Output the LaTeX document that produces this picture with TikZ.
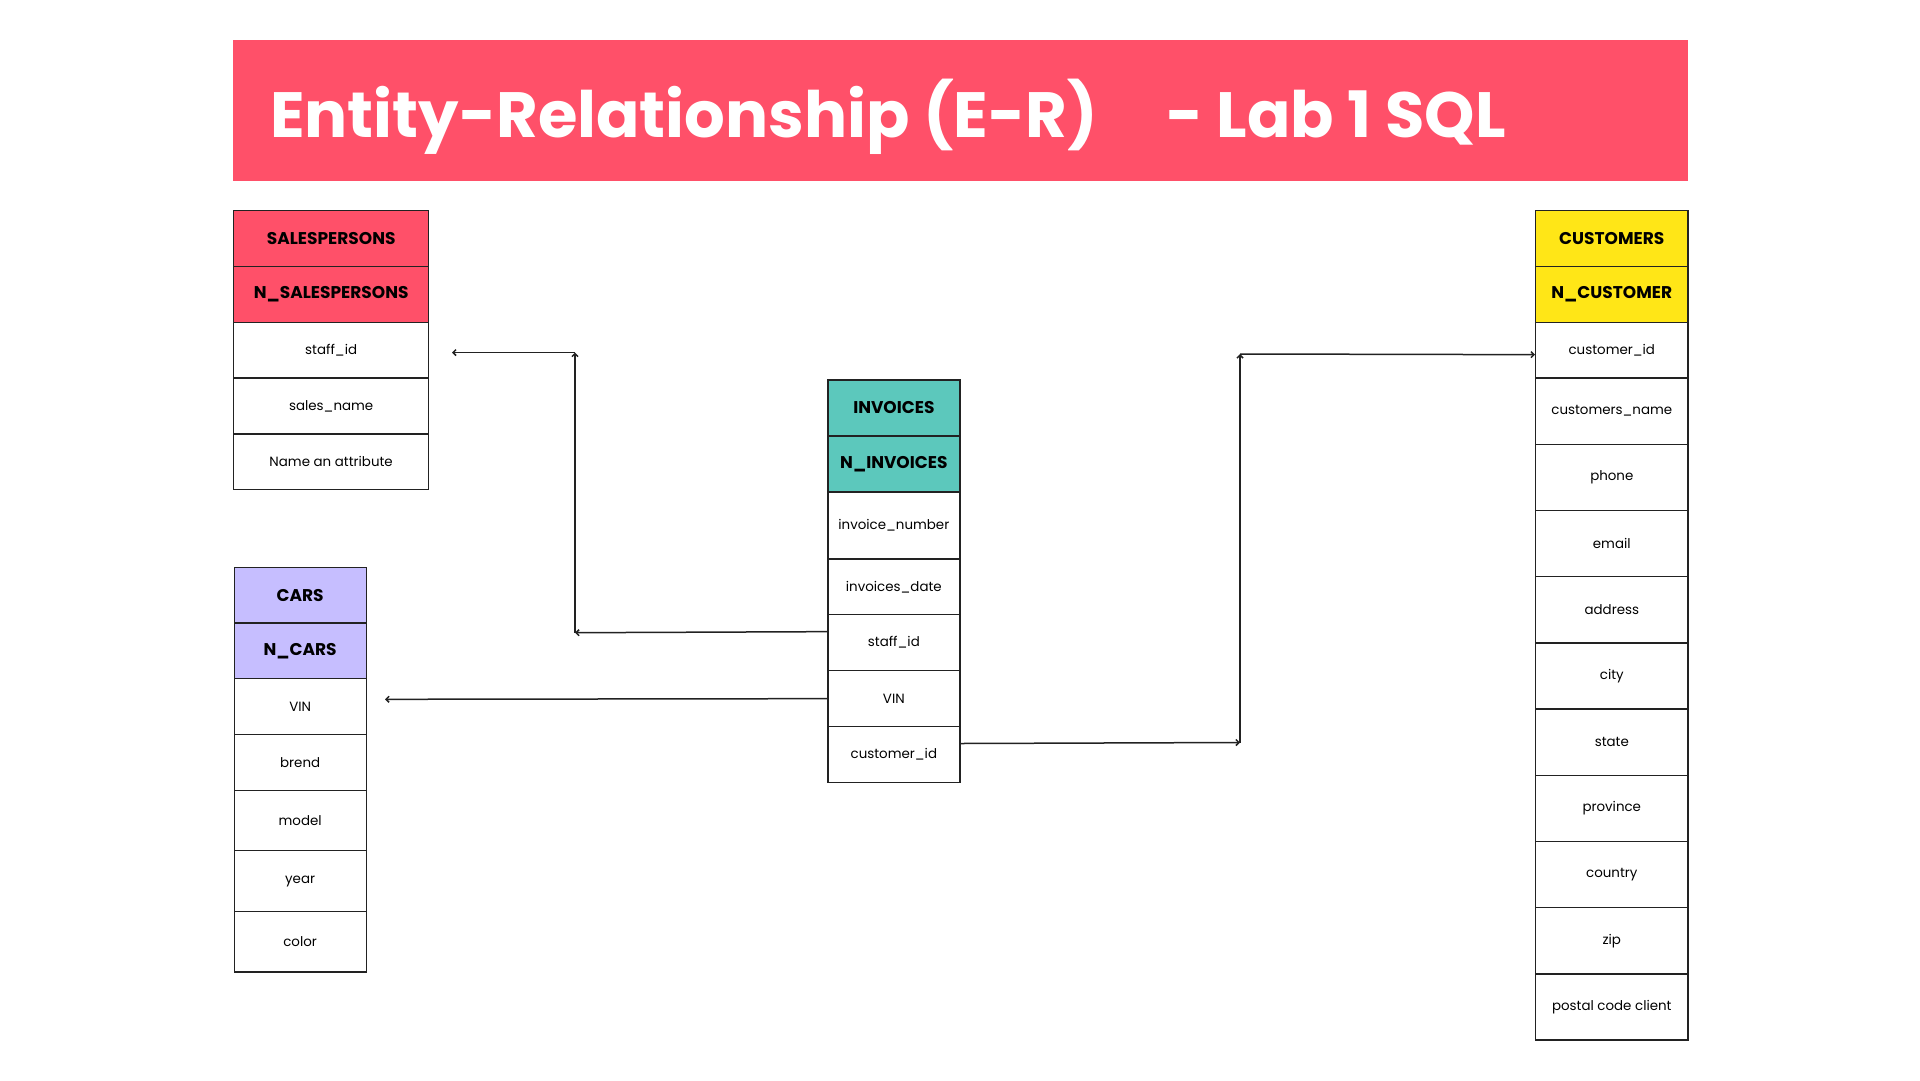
\documentclass[tikz,border=0pt]{standalone}
\usepackage{fontspec}
\usepackage{xcolor}
\usepackage{tikz}
\usetikzlibrary{arrows.meta, calc, positioning}
\setmainfont{Poppins}

\definecolor{bannerred}{HTML}{FF5069}
\definecolor{carviolet}{HTML}{C6BEFF}
\definecolor{invteal}{HTML}{5CC8BC}
\definecolor{custyellow}{HTML}{FFE617}
\definecolor{linegray}{HTML}{222222}

\tikzset{
    row/.style={draw=linegray, line width=1.3pt, fill=white, inner sep=0pt, anchor=north west,
        font=\fontsize{13.4}{16}\selectfont},
    headrow/.style={row, font=\bfseries\fontsize{17}{20}\selectfont},
    link/.style={draw=linegray, line width=1.5pt, -{Straight Barb[length=3pt, width=6pt]}}
}

\begin{document}
\begin{tikzpicture}[x=1pt, y=-1pt]
    \useasboundingbox (0, 0) rectangle (1920, 1080);

    \node[fill=bannerred, inner sep=0pt, minimum width=1455pt, minimum height=141pt, anchor=north west] (banner) at (233, 40) {};
    \node[text=white, anchor=base west, inner sep=0pt, font=\bfseries\fontsize{64}{70}\selectfont] (title) at (270, 137.7) {Entity-Relationship (E-R)};
    \node[text=white, anchor=base west, inner sep=0pt, font=\bfseries\fontsize{64}{70}\selectfont] (titlelab) at (1166, 137.7) {- Lab 1 SQL};

    % salespersons
    \node[headrow, fill=bannerred, minimum width=195pt, minimum height=55.8pt] (salehead) at (233, 210) {SALESPERSONS};
    \node[headrow, fill=bannerred, minimum width=195pt, minimum height=55.8pt] (salekey) at (233, 265.8) {N\_SALESPERSONS};
    \node[row, minimum width=195pt, minimum height=55.8pt] (salestaff) at (233, 321.6) {staff\_id};
    \node[row, minimum width=195pt, minimum height=55.8pt] (salename) at (233, 377.4) {sales\_name};
    \node[row, minimum width=195pt, minimum height=55.8pt] (saleattr) at (233, 433.2) {Name an attribute};

    % cars
    \node[headrow, fill=carviolet, minimum width=132pt, minimum height=55.7pt] (carhead) at (233.5, 566.7) {CARS};
    \node[headrow, fill=carviolet, minimum width=132pt, minimum height=55.7pt] (carkey) at (233.5, 622.4) {N\_CARS};
    \node[row, minimum width=132pt, minimum height=55.7pt] (carvin) at (233.5, 678.1) {VIN};
    \node[row, minimum width=132pt, minimum height=55.7pt] (carbrend) at (233.5, 733.8) {brend};
    \node[row, minimum width=132pt, minimum height=60.6pt] (carmodel) at (233.5, 789.5) {model};
    \node[row, minimum width=132pt, minimum height=60.6pt] (caryear) at (233.5, 850.1) {year};
    \node[row, minimum width=132pt, minimum height=60.6pt] (carcolor) at (233.5, 910.7) {color};

    % invoices
    \node[headrow, fill=invteal, minimum width=132pt, minimum height=56pt] (invhead) at (827.2, 379.3) {INVOICES};
    \node[headrow, fill=invteal, minimum width=132pt, minimum height=56pt] (invkey) at (827.2, 435.3) {N\_INVOICES};
    \node[row, minimum width=132pt, minimum height=67pt] (invnumber) at (827.2, 491.3) {invoice\_number};
    \node[row, minimum width=132pt, minimum height=55.7pt] (invdate) at (827.2, 558.3) {invoices\_date};
    \node[row, minimum width=132pt, minimum height=56pt] (invstaff) at (827.2, 614) {staff\_id};
    \node[row, minimum width=132pt, minimum height=56pt] (invvin) at (827.2, 670) {VIN};
    \node[row, minimum width=132pt, minimum height=55.7pt] (invcust) at (827.2, 726) {customer\_id};

    % customers
    \node[headrow, fill=custyellow, minimum width=152.3pt, minimum height=55.8pt] (custhead) at (1535, 210) {CUSTOMERS};
    \node[headrow, fill=custyellow, minimum width=152.3pt, minimum height=55.8pt] (custkey) at (1535, 265.8) {N\_CUSTOMER};
    \node[row, minimum width=152.3pt, minimum height=55.8pt] (custid) at (1535, 321.6) {customer\_id};
    \node[row, minimum width=152.3pt, minimum height=66.2pt] (custname) at (1535, 377.4) {customers\_name};
    \node[row, minimum width=152.3pt, minimum height=66.2pt] (custphone) at (1535, 443.6) {phone};
    \node[row, minimum width=152.3pt, minimum height=66.2pt] (custemail) at (1535, 509.8) {email};
    \node[row, minimum width=152.3pt, minimum height=66.2pt] (custaddress) at (1535, 576) {address};
    \node[row, minimum width=152.3pt, minimum height=66.2pt] (custcity) at (1535, 642.2) {city};
    \node[row, minimum width=152.3pt, minimum height=66.2pt] (custstate) at (1535, 708.4) {state};
    \node[row, minimum width=152.3pt, minimum height=66.2pt] (custprovince) at (1535, 774.6) {province};
    \node[row, minimum width=152.3pt, minimum height=66.2pt] (custcountry) at (1535, 840.8) {country};
    \node[row, minimum width=152.3pt, minimum height=66.2pt] (custzip) at (1535, 907) {zip};
    \node[row, minimum width=152.3pt, minimum height=66.2pt] (custpostal) at (1535, 973.2) {postal code client};

    \coordinate (staffjoin) at (575, 632.7);
    \coordinate (staffbend) at (575, 352.6);
    \coordinate (staffend) at (452, 352.6);
    \coordinate (vinend) at (385, 699.3);
    \coordinate (custjoin) at (1240, 742.5);
    \coordinate (custbend) at (1240, 354);

    \draw[link] ([yshift=11pt]invstaff.west) -- (staffjoin);
    \draw[link] (staffjoin) -- (staffbend);
    \draw[link] (staffbend) -- (staffend);
    \draw[link] (invvin.west) -- (vinend);
    \draw[link] ([yshift=11pt]invcust.east) -- (custjoin);
    \draw[link] (custjoin) -- (custbend);
    \draw[link] (custbend) -- ([yshift=-4.5pt]custid.west);
\end{tikzpicture}
\end{document}
